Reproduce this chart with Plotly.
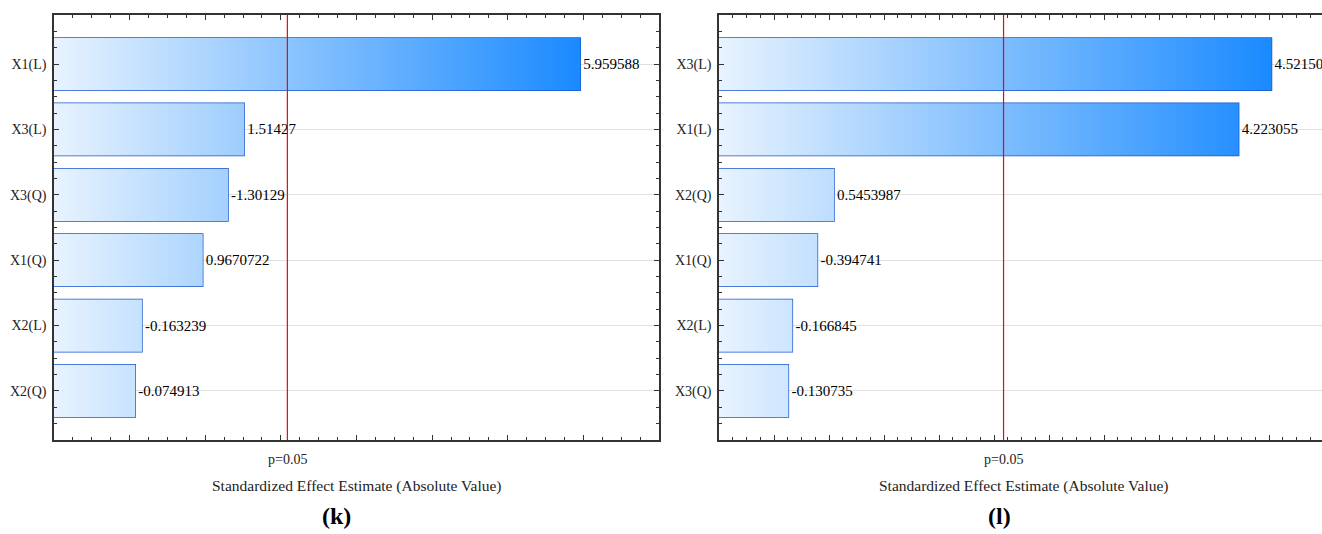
import plotly.graph_objects as go

# Pareto charts of standardized effects, panels (k) and (l)
terms_k = ["X1(L)", "X3(L)", "X3(Q)", "X1(Q)", "X2(L)", "X2(Q)"]
effects_k = ["5.959588", "1.51427", "-1.30129", "0.9670722", "-0.163239", "-0.074913"]

terms_l = ["X3(L)", "X1(L)", "X2(Q)", "X1(Q)", "X2(L)", "X3(Q)"]
effects_l = ["4.52150", "4.223055", "0.5453987", "-0.394741", "-0.166845", "-0.130735"]

t_crit = 2.086  # p = 0.05 threshold

FONT = "Liberation Serif"
BAR_EDGE = "#1a55d0"
GRAD = [[0.0, "#e8f3fe"], [1.0, "#1a8aff"]]
BAR_W = 0.8

panels = [
    dict(terms=terms_k, effects=effects_k, xr=(-1.0, 7.0), dtick=1.0, minor=0.25,
         dom=(54 / 1322, 659 / 1322), xa="x", ya="y", cap="(k)",
         tx=357 / 1322, cx=336 / 1322, mirror=True),
    dict(terms=terms_l, effects=effects_l, xr=(-0.5, 4.98), dtick=0.5, minor=0.125,
         dom=(719 / 1322, 1.0), xa="x2", ya="y2", cap="(l)",
         tx=1024 / 1322, cx=1000 / 1322, mirror=False),
]

fig = go.Figure()
shapes, annotations = [], []

for p in panels:
    vals = [abs(float(s)) for s in p["effects"]]
    pos = list(range(len(p["terms"])))
    base = p["xr"][0]
    vmax = max(vals)
    # gradient-filled body of each bar
    for v, yi in zip(vals, pos):
        h = BAR_W / 2
        fig.add_trace(go.Scatter(
            x=[base, v, v, base, base], y=[yi - h, yi - h, yi + h, yi + h, yi - h],
            mode="lines", line=dict(width=0), fill="toself",
            fillgradient=dict(type="horizontal", colorscale=GRAD, start=base, stop=vmax),
            xaxis=p["xa"], yaxis=p["ya"], hoverinfo="skip", showlegend=False))
    # outlines and value labels
    fig.add_trace(go.Bar(
        orientation="h", y=pos, x=[v - base for v in vals], base=base, width=BAR_W,
        marker=dict(color="rgba(0,0,0,0)", line=dict(color=BAR_EDGE, width=1.4)),
        text=p["effects"], textposition="outside", cliponaxis=False, constraintext="none",
        textfont=dict(family=FONT, size=15, color="#000"),
        xaxis=p["xa"], yaxis=p["ya"], showlegend=False))

    shapes.append(dict(type="line", xref=p["xa"], yref=p["ya"] + " domain",
                       x0=t_crit, x1=t_crit, y0=0, y1=1,
                       line=dict(color="#ff0000", width=1.2), layer="above"))
    annotations.append(dict(x=t_crit, xref=p["xa"], y=459, yref="paper", text="p=0.05",
                            xanchor="center", showarrow=False,
                            font=dict(family=FONT, size=14, color="#222")))
    annotations.append(dict(x=p["tx"], xref="paper", y=486, yref="paper",
                            text="Standardized Effect Estimate (Absolute Value)", xanchor="center",
                            showarrow=False, font=dict(family=FONT, size=15.5, color="#222")))
    annotations.append(dict(x=p["cx"], xref="paper", y=516, yref="paper",
                            text="<b>" + p["cap"] + "</b>", xanchor="center",
                            showarrow=False, font=dict(family=FONT, size=24, color="#000")))

    axx = dict(domain=list(p["dom"]), range=list(p["xr"]), showticklabels=False, showgrid=False,
               zeroline=False, showline=True, linecolor="#333", linewidth=1.5,
               mirror="ticks", ticks="inside", ticklen=5, tickcolor="#333", dtick=p["dtick"], tick0=0,
               minor=dict(dtick=p["minor"], tick0=0, ticks="inside", ticklen=3, tickcolor="#333", showgrid=False),
               anchor=p["ya"], fixedrange=True)
    axy = dict(range=[len(pos) - 0.25, -0.75], tickvals=pos, ticktext=p["terms"],
               showgrid=True, gridcolor="#e0e0e0", gridwidth=1, zeroline=False,
               showline=True, linecolor="#333", linewidth=1.5,
               mirror="ticks" if p["mirror"] else False,
               ticks="inside", ticklen=5, tickcolor="#333", ticklabelstandoff=3,
               minor=dict(dtick=0.25, tick0=0, ticks="inside", ticklen=3, tickcolor="#333", showgrid=False),
               tickfont=dict(family=FONT, size=14, color="#222"),
               anchor=p["xa"], fixedrange=True)
    suffix = "" if p["xa"] == "x" else "2"
    fig.layout["xaxis" + suffix] = axx
    fig.layout["yaxis" + suffix] = axy

# convert pixel rows of the annotations to paper fractions
H, T, B = 534, 15, 94
for a in annotations:
    a["y"] = 1 - (a["y"] - T) / (H - T - B)
    a["yanchor"] = "middle"

fig.update_layout(width=1322, height=534, margin=dict(l=0, r=0, t=T, b=B),
                  paper_bgcolor="white", plot_bgcolor="white",
                  shapes=shapes, annotations=annotations, bargap=0.2)
fig.write_html("out.html")
